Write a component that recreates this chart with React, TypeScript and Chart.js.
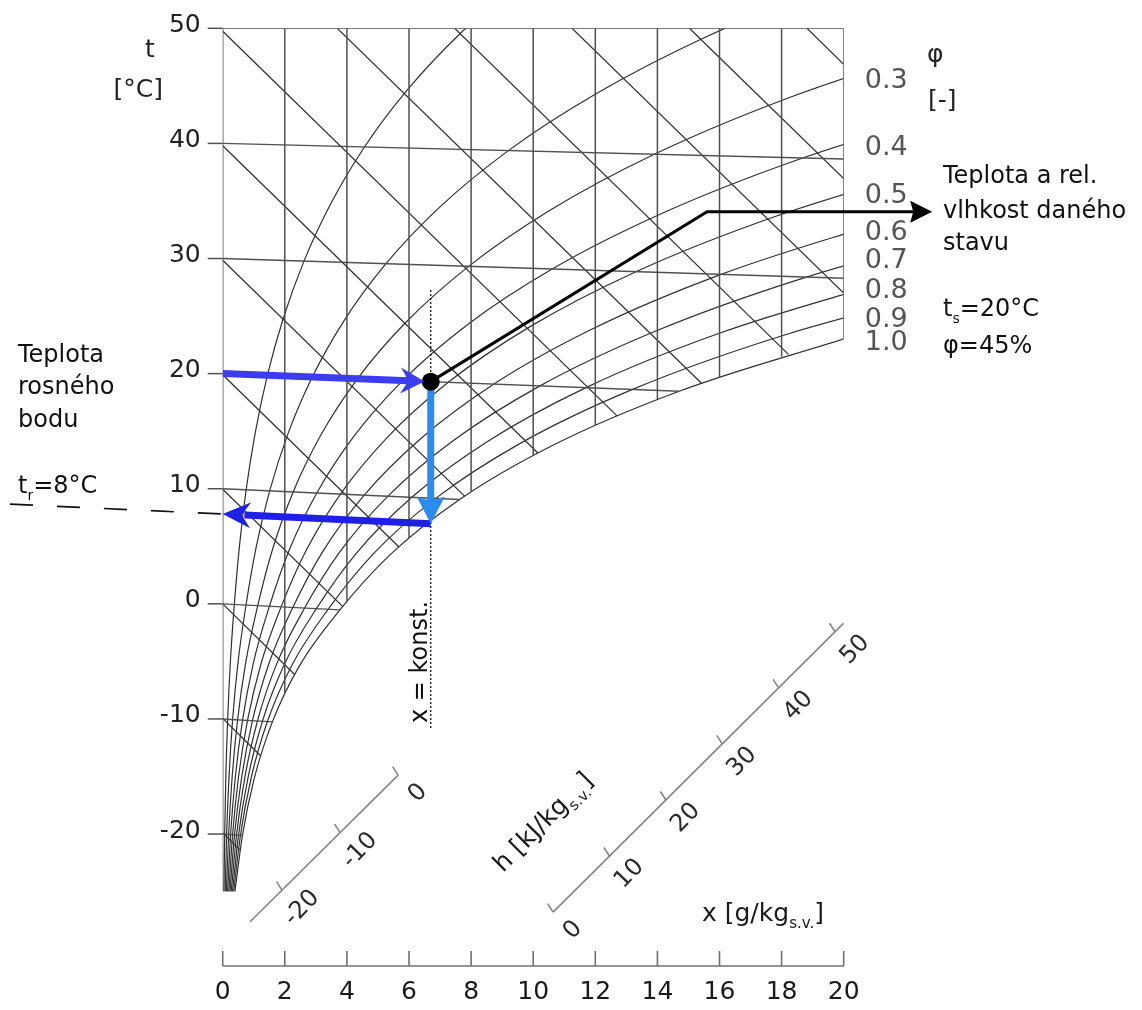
import React, { useEffect, useRef } from 'react';
import { Chart, registerables } from 'chart.js';

Chart.register(...registerables);

// ---------------- data ----------------
const X_TICKS = [0, 2, 4, 6, 8, 10, 12, 14, 16, 18, 20];
const Y_TICKS = [-20, -10, 0, 10, 20, 30, 40, 50];

const PHI_LEVELS = [0.1, 0.2, 0.3, 0.4, 0.5, 0.6, 0.7, 0.8, 0.9, 1.0];
const T_GRID = [-25, -20, -15, -10, -5, 0, 5, 10, 15, 20, 25, 30, 35, 40, 45, 50, 55];
// moisture content x [g/kg] of each phi curve at the temperatures of T_GRID
const PHI_X: number[][] = [
  [0.039, 0.064, 0.101, 0.16, 0.247, 0.375, 0.536, 0.755, 1.049, 1.439, 1.952, 2.618, 3.475, 4.566, 5.946, 7.676, 9.829],
  [0.078, 0.127, 0.203, 0.319, 0.494, 0.751, 1.073, 1.512, 2.101, 2.885, 3.916, 5.258, 6.989, 9.201, 12.01, 15.54, 19.97],
  [0.117, 0.191, 0.304, 0.479, 0.741, 1.128, 1.611, 2.27, 3.157, 4.338, 5.893, 7.921, 10.54, 13.9, 18.19, 23.61],
  [0.156, 0.254, 0.406, 0.639, 0.988, 1.505, 2.15, 3.031, 4.217, 5.797, 7.882, 10.61, 14.14, 18.68, 24.49],
  [0.195, 0.318, 0.507, 0.799, 1.236, 1.882, 2.69, 3.793, 5.28, 7.264, 9.885, 13.31, 17.77, 23.52],
  [0.234, 0.381, 0.609, 0.958, 1.484, 2.259, 3.231, 4.557, 6.347, 8.737, 11.9, 16.05, 21.45],
  [0.273, 0.445, 0.71, 1.119, 1.732, 2.637, 3.772, 5.322, 7.418, 10.22, 13.93, 18.8, 25.17],
  [0.312, 0.509, 0.813, 1.279, 1.979, 3.016, 4.315, 6.091, 8.491, 11.7, 15.97, 21.58],
  [0.351, 0.572, 0.914, 1.439, 2.228, 3.395, 4.858, 6.86, 9.569, 13.2, 18.02, 24.38],
  [0.39, 0.636, 1.016, 1.6, 2.476, 3.775, 5.403, 7.632, 10.65, 14.7, 20.09],
];

// isotherms (t = const) and where they end on the saturation curve / right frame
const ISO_T = [-20, -10, 0, 10, 20, 30, 40];
const ISO_X_END = [0.636, 1.6, 3.775, 7.632, 14.7, 20, 20];

// x = const lines and the temperature at which they meet saturation
const VERT_X = [2, 4, 6, 8, 10, 12, 14, 16, 18, 20];
const VERT_T_SAT = [-7.46, 0.79, 6.49, 10.69, 14.04, 16.83, 19.23, 21.34, 23.23, 24.93];

// enthalpy lines h = const [kJ/kg]
const H_VALUES = [-20, -10, 0, 10, 20, 30, 40, 50, 60, 70, 80, 90, 100];
const H_START_X = [0, 0, 0, 0, 0, 0, 0, 0, 3.69, 7.47, 11.25, 15.03, 18.81];
const H_START_T = [-19.9, -9.95, 0, 9.95, 19.9, 29.85, 39.8, 49.75, 50.18, 50.37, 50.55, 50.74, 50.93];
const H_END_X = [0.559, 1.22, 2.31, 3.86, 5.67, 7.79, 10.15, 12.7, 15.42, 18.22, 20, 20, 20];
const H_END_T = [-21.3, -13.0, -5.77, 0.32, 5.69, 10.3, 14.27, 17.7, 20.75, 23.45, 28.77, 38.36, 47.95];

const H_AXIS_SMALL_TICKS = [-20, -10, 0];
const H_AXIS_BIG_TICKS = [0, 10, 20, 30, 40, 50];

const PHI_LABELS = ['0.3', '0.4', '0.5', '0.6', '0.7', '0.8', '0.9', '1.0'];

// state point and dew point
const STATE_X = 6.7;
const STATE_T = 20;
const DEW_T = 7.8;
// callout line (chart coordinates)
const CALLOUT_X = [15.6, 22.85];
const CALLOUT_Y = 34.07;
const XKONST_RANGE = [27.26, -10.96];
const DEW_DASH_X_START = -6.85;

// ---------------- layout / style ----------------
const W = 1142;
const H = 1010;
const FONT = '"DejaVu Sans", "Liberation Sans", Arial, sans-serif';
const GRID = '#505050';
const CURVE = '#303030';

// oblique coordinates of the chart: isotherms fall slightly with x
const SKEW_A = 0.14;
const SKEW_B = 0.0018;
const toPlot = (x: number, t: number) => ({ x, y: t - (SKEW_A - SKEW_B * t) * x });

const PHI_LABEL_Y = [44.81, 39.0, 34.83, 31.61, 29.18, 26.57, 24.05, 22.05];

// decorative enthalpy scales (placed in chart coordinates)
const H_SMALL = { from: -25.5, to: 0, a: { h: -20, x: 1.91, y: -24.87 }, b: { h: 0, x: 5.65, y: -14.88 } };
const H_BIG = { from: 0, to: 51.5, a: { h: 0, x: 10.64, y: -26.78 }, b: { h: 50, x: 19.72, y: -2.43 } };

function lineDs(data: { x: number; y: number }[], color: string, width: number, extra: any = {}) {
  return {
    data,
    showLine: true,
    borderColor: color,
    borderWidth: width,
    pointRadius: 0,
    fill: false,
    order: 10,
    ...extra,
  };
}

function head(ctx: CanvasRenderingContext2D, tx: number, ty: number, dx: number, dy: number,
  len: number, hw: number, notch: number, color: string) {
  const L = Math.hypot(dx, dy);
  dx /= L; dy /= L;
  const pxv = -dy, pyv = dx;
  const bx = tx - dx * len, by = ty - dy * len;
  ctx.beginPath();
  ctx.moveTo(tx, ty);
  ctx.lineTo(bx + pxv * hw, by + pyv * hw);
  ctx.lineTo(tx - dx * (len - notch), ty - dy * (len - notch));
  ctx.lineTo(bx - pxv * hw, by - pyv * hw);
  ctx.closePath();
  ctx.fillStyle = color;
  ctx.fill();
}

type Part = { t: string; sub?: boolean };
function rich(ctx: CanvasRenderingContext2D, parts: Part[], x: number, y: number, size: number, color: string) {
  let cx = x;
  ctx.fillStyle = color;
  ctx.textAlign = 'left';
  ctx.textBaseline = 'alphabetic';
  for (const p of parts) {
    const s = p.sub ? Math.round(size * 0.6) : size;
    ctx.font = `${s}px ${FONT}`;
    ctx.fillText(p.t, cx, p.sub ? y + size * 0.28 : y);
    cx += ctx.measureText(p.t).width;
  }
}

const decorPlugin = {
  id: 'decor',
  beforeDraw(chart: any) {
    const ctx = chart.ctx;
    ctx.save();
    ctx.fillStyle = '#ffffff';
    ctx.fillRect(0, 0, chart.width, chart.height);
    ctx.restore();
  },
  afterDatasetsDraw(chart: any) {
    const ctx: CanvasRenderingContext2D = chart.ctx;
    const xs = chart.scales.x;
    const ys = chart.scales.y;
    const px = (v: number) => xs.getPixelForValue(v);
    const py = (v: number) => ys.getPixelForValue(v);
    ctx.save();

    // ---- y axis ticks and labels ----
    ctx.strokeStyle = GRID;
    ctx.lineWidth = 1.5;
    ctx.font = `25px ${FONT}`;
    ctx.fillStyle = '#222';
    ctx.textAlign = 'right';
    ctx.textBaseline = 'middle';
    for (const v of Y_TICKS) {
      const yy = py(v);
      ctx.beginPath();
      ctx.moveTo(px(0) - 15, yy);
      ctx.lineTo(px(0), yy);
      ctx.stroke();
      ctx.fillText(String(v), px(0) - 22, yy - 3);
    }

    // ---- bottom x axis ----
    const axisY = 966;
    ctx.strokeStyle = '#707070';
    ctx.lineWidth = 1.6;
    ctx.beginPath();
    ctx.moveTo(px(0), axisY);
    ctx.lineTo(px(20), axisY);
    ctx.stroke();
    ctx.textAlign = 'center';
    ctx.textBaseline = 'middle';
    ctx.fillStyle = '#1a1a1a';
    ctx.font = `25px ${FONT}`;
    for (const v of X_TICKS) {
      ctx.beginPath();
      ctx.moveTo(px(v), axisY);
      ctx.lineTo(px(v), axisY - 15);
      ctx.stroke();
      ctx.fillText(String(v), px(v), axisY + 26);
    }

    // ---- enthalpy scales ----
    const hAxis = (ax: any, ticks: number[]) => {
      const map = (h: number) => {
        const f = (h - ax.a.h) / (ax.b.h - ax.a.h);
        return [px(ax.a.x + f * (ax.b.x - ax.a.x)), py(ax.a.y + f * (ax.b.y - ax.a.y))];
      };
      ctx.strokeStyle = '#858585';
      ctx.lineWidth = 1.6;
      const p0 = map(ax.from), p1 = map(ax.to);
      ctx.beginPath();
      ctx.moveTo(p0[0], p0[1]);
      ctx.lineTo(p1[0], p1[1]);
      ctx.stroke();
      ctx.font = `24px ${FONT}`;
      ctx.fillStyle = '#2a2a2a';
      ctx.textAlign = 'center';
      ctx.textBaseline = 'middle';
      for (const h of ticks) {
        const [tx, ty] = map(h);
        ctx.beginPath();
        ctx.moveTo(tx, ty);
        ctx.lineTo(tx - 5.5, ty - 8.5);
        ctx.stroke();
        ctx.save();
        ctx.translate(tx + 20, ty + 18);
        ctx.rotate(-46 * Math.PI / 180);
        ctx.fillText(String(h), 0, 0);
        ctx.restore();
      }
    };
    hAxis(H_SMALL, H_AXIS_SMALL_TICKS);
    hAxis(H_BIG, H_AXIS_BIG_TICKS);

    // h axis title
    ctx.save();
    ctx.translate(503, 873);
    ctx.rotate(-45 * Math.PI / 180);
    rich(ctx, [{ t: 'h [kJ/kg' }, { t: 's.v.', sub: true }, { t: ']' }], 0, 0, 25, '#1a1a1a');
    ctx.restore();

    // x axis title
    rich(ctx, [{ t: 'x [g/kg' }, { t: 's.v.', sub: true }, { t: ']' }], 702, 921, 25, '#1a1a1a');

    // ---- arrow heads ----
    const dewY = toPlot(STATE_X, DEW_T).y;
    const a1 = toPlot(6.5, STATE_T);
    head(ctx, px(a1.x), py(a1.y), px(a1.x) - px(0), py(a1.y) - py(STATE_T), 24, 13, 8, '#3d3df0');
    head(ctx, px(STATE_X), py(dewY), 0, 1, 27, 14, 4, '#2b8cf0');
    head(ctx, px(0), py(DEW_T), px(0) - px(STATE_X), py(DEW_T) - py(dewY), 28, 13, 9, '#1f1fe6');
    head(ctx, px(CALLOUT_X[1]), py(CALLOUT_Y), 1, 0, 22, 11, 3, '#000');

    // ---- texts ----
    const T = (s: string, x: number, y: number, size = 24, color = '#111', align: CanvasTextAlign = 'left') => {
      ctx.font = `${size}px ${FONT}`;
      ctx.fillStyle = color;
      ctx.textAlign = align;
      ctx.textBaseline = 'alphabetic';
      ctx.fillText(s, x, y);
    };
    T('t', 150, 57, 25, '#222', 'center');
    T('[°C]', 163, 97, 25, '#222', 'right');
    T('φ', 927, 62, 25, '#222');
    T('[-]', 928, 108, 25, '#222');

    PHI_LABELS.forEach((s, i) => T(s, px(20) + 21, py(PHI_LABEL_Y[i]), 27, '#555'));

    T('Teplota a rel.', 943, 183);
    T('vlhkost daného', 943, 218);
    T('stavu', 943, 250);
    rich(ctx, [{ t: 't' }, { t: 's', sub: true }, { t: '=20°C' }], 943, 316, 24, '#111');
    T('φ=45%', 943, 353);

    T('Teplota', 18, 362);
    T('rosného', 18, 394);
    T('bodu', 18, 427);
    rich(ctx, [{ t: 't' }, { t: 'r', sub: true }, { t: '=8°C' }], 18, 493, 24, '#111');

    ctx.save();
    ctx.translate(427, 662);
    ctx.rotate(-Math.PI / 2);
    ctx.font = `24px ${FONT}`;
    ctx.fillStyle = '#111';
    ctx.textAlign = 'center';
    ctx.textBaseline = 'alphabetic';
    ctx.fillText('x = konst.', 0, 0);
    ctx.restore();

    ctx.restore();
  },
};

function buildDatasets() {
  const ds: any[] = [];
  // frame: x = 0 line, top line, right edge
  ds.push(lineDs([{ x: 0, y: 50 }, { x: 0, y: -25 }], GRID, 1.5));
  ds.push(lineDs([{ x: 0, y: 50 }, { x: 20, y: 50 }], GRID, 1.5));
  VERT_X.forEach((x, i) => {
    ds.push(lineDs([{ x, y: 50 }, toPlot(x, VERT_T_SAT[i])], GRID, 1.5));
  });
  ISO_T.forEach((t, i) => {
    ds.push(lineDs([toPlot(0, t), toPlot(ISO_X_END[i], t)], GRID, 1.4));
  });
  H_VALUES.forEach((_, i) => {
    ds.push(lineDs([toPlot(H_START_X[i], H_START_T[i]), toPlot(H_END_X[i], H_END_T[i])], CURVE, 1.25));
  });
  PHI_LEVELS.forEach((_, i) => {
    const pts = PHI_X[i].map((x, j) => toPlot(x, T_GRID[j]));
    ds.push(lineDs(pts, CURVE, 1.2, { cubicInterpolationMode: 'monotone', tension: 0.4 }));
  });

  const st = toPlot(STATE_X, STATE_T);
  const dew = toPlot(STATE_X, DEW_T);
  // dotted x = const line
  ds.push(lineDs([{ x: STATE_X, y: XKONST_RANGE[0] }, { x: STATE_X, y: XKONST_RANGE[1] }], '#111', 1.3,
    { borderDash: [2, 2], order: 5 }));
  // dashed dew-point isotherm extension
  ds.push(lineDs([toPlot(DEW_DASH_X_START, DEW_T), toPlot(0, DEW_T)], '#111', 1.7,
    { borderDash: [23, 24], clip: false, order: 5 }));
  // arrows
  ds.push(lineDs([toPlot(0, STATE_T), toPlot(6.0, STATE_T)], '#3d3df0', 7, { order: 2, borderCapStyle: 'butt' }));
  ds.push(lineDs([st, { x: STATE_X, y: dew.y + 1.3 }], '#2b8cf0', 7, { order: 2 }));
  ds.push(lineDs([dew, toPlot(0.7, DEW_T)], '#1f1fe6', 7, { order: 2 }));
  ds.push(lineDs([st, { x: CALLOUT_X[0], y: CALLOUT_Y }, { x: CALLOUT_X[1] - 0.6, y: CALLOUT_Y }], '#000', 3,
    { order: 2, clip: false }));
  // state point
  ds.push({ data: [st], showLine: false, pointRadius: 9, pointBackgroundColor: '#000', pointBorderWidth: 0, order: 0 });
  return ds;
}

export default function App() {
  const ref = useRef<HTMLCanvasElement | null>(null);
  useEffect(() => {
    if (!ref.current) return;
    const chart = new Chart(ref.current, {
      type: 'scatter',
      data: { datasets: buildDatasets() },
      options: {
        animation: false,
        responsive: false,
        events: [],
        layout: { padding: { left: 222.7, right: W - 843.7, top: 28.3, bottom: H - 891.6 } },
        scales: {
          x: { type: 'linear', min: 0, max: 20, display: false },
          y: { type: 'linear', min: -25, max: 50, display: false },
        },
        plugins: { legend: { display: false }, tooltip: { enabled: false } },
      } as any,
      plugins: [decorPlugin as any],
    });
    return () => chart.destroy();
  }, []);
  return (
    <div style={{ position: 'absolute', left: 0, top: 0, width: W, height: H, background: '#fff' }}>
      <canvas ref={ref} width={W} height={H} style={{ display: 'block' }} />
    </div>
  );
}
